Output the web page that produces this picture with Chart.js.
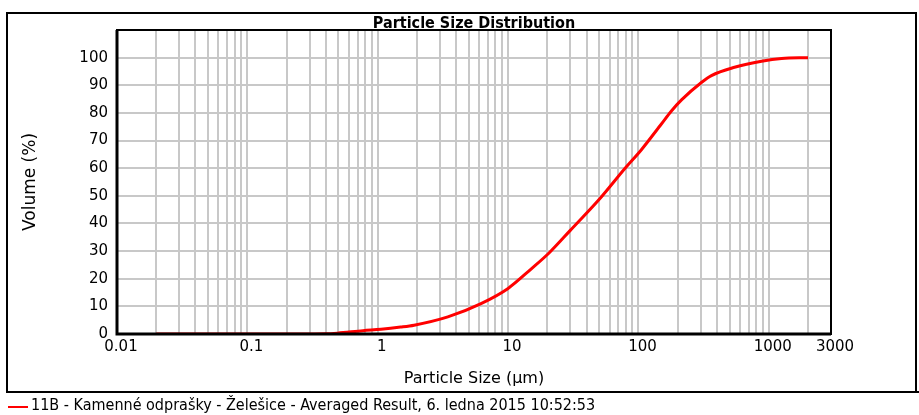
<!DOCTYPE html>
<html>
<head>
<meta charset="utf-8">
<script src="https://cdn.jsdelivr.net/npm/chart.js@4.4.0/dist/chart.umd.min.js"></script>
<style>
    html, body { margin: 0; padding: 0; background: #ffffff; }
    #wrap { width: 919px; height: 415px; }
</style>
</head>
<body>
<div id="wrap"><canvas id="psdChart" width="919" height="415"></canvas></div>
<script>
// Particle size (µm) and cumulative volume (%)
const sizes = [0.02, 0.1, 0.3, 0.4, 0.49, 0.77, 1.06, 1.5, 1.9, 3.45, 6.2, 10, 15, 20.8, 30, 51.9, 78.4, 105, 150, 179, 214, 304, 363, 546, 880, 1254, 2000];
const volumes = [0, 0, 0, 0.05, 0.3, 1.2, 1.7, 2.5, 3.2, 6.2, 11, 16.5, 23.5, 29.5, 37.5, 49.6, 59.8, 66.6, 76, 80.7, 84.7, 91, 93.5, 96.5, 98.7, 99.7, 100];

// Axis ticks
const xLabelTicks = [0.01, 0.1, 1, 10, 100, 1000, 3000];
const xGridTicks = [0.01, 0.02, 0.03, 0.04, 0.05, 0.06, 0.07, 0.08, 0.09,
                    0.1, 0.2, 0.3, 0.4, 0.5, 0.6, 0.7, 0.8, 0.9,
                    1, 2, 3, 4, 5, 6, 7, 8, 9,
                    10, 20, 30, 40, 50, 60, 70, 80, 90,
                    100, 200, 300, 400, 500, 600, 700, 800, 900,
                    1000, 2000, 3000];
const yLabelTicks = [0, 10, 20, 30, 40, 50, 60, 70, 80, 90, 100];

const chartTitle = 'Particle Size Distribution';
const seriesName = '11B - Kamenné odprašky - Želešice - Averaged Result, 6. ledna 2015 10:52:53';

const FONT = '"DejaVu Sans", Tahoma, sans-serif';
const FONT_NARROW = '"DejaVu Sans Condensed", "DejaVu Sans", sans-serif';

// Frame, title, plot border and legend drawn around the chart
const framePlugin = {
    id: 'frame',
    beforeDatasetsDraw(chart) {
        const ctx = chart.ctx;
        ctx.save();
        ctx.fillStyle = '#000';
        ctx.font = 'bold 16px ' + FONT_NARROW;
        ctx.textAlign = 'center';
        ctx.textBaseline = 'middle';
        ctx.fillText(chartTitle, (chart.chartArea.left + chart.chartArea.right) / 2, 24);
        ctx.restore();
    },
    afterDraw(chart) {
        const ctx = chart.ctx;
        const a = chart.chartArea;
        ctx.save();
        ctx.strokeStyle = '#000';
        // plot border
        ctx.lineWidth = 2;
        ctx.strokeRect(a.left, a.top, a.right - a.left, a.bottom - a.top);
        ctx.lineWidth = 3;
        ctx.beginPath();
        ctx.moveTo(a.left, a.top);
        ctx.lineTo(a.left, a.bottom);
        ctx.lineTo(a.right, a.bottom);
        ctx.stroke();
        // outer frame
        ctx.lineWidth = 2;
        ctx.strokeRect(7, 13, 909, 379);
        ctx.beginPath();
        ctx.moveTo(7, 392);
        ctx.lineTo(919, 392);
        ctx.stroke();
        // legend
        ctx.strokeStyle = '#ff0000';
        ctx.lineWidth = 2;
        ctx.beginPath();
        ctx.moveTo(8, 407);
        ctx.lineTo(28, 407);
        ctx.stroke();
        ctx.fillStyle = '#000';
        ctx.font = '16px ' + FONT_NARROW;
        ctx.textAlign = 'left';
        ctx.textBaseline = 'middle';
        ctx.fillText(seriesName, 31, 406);
        ctx.restore();
    }
};

const ctx = document.getElementById('psdChart');
new Chart(ctx, {
    type: 'line',
    data: {
        datasets: [{
            label: seriesName,
            data: sizes.map((s, i) => ({ x: s, y: volumes[i] })),
            borderColor: '#ff0000',
            borderWidth: 3,
            pointRadius: 0,
            cubicInterpolationMode: 'monotone',
            fill: false
        }]
    },
    options: {
        responsive: false,
        animation: false,
        devicePixelRatio: 1,
        layout: {
            padding: { left: 0, right: 88, top: 30, bottom: 0 }
        },
        plugins: {
            legend: { display: false },
            title: { display: false },
            tooltip: { enabled: false }
        },
        scales: {
            x: {
                type: 'logarithmic',
                min: 0.01,
                max: 3000,
                afterBuildTicks: scale => {
                    scale.ticks = xGridTicks.map(v => ({ value: v }));
                },
                afterFit: scale => { scale.height = 81; },
                ticks: {
                    color: '#000',
                    font: { family: FONT, size: 15 },
                    padding: 4,
                    labelOffset: 4,
                    maxRotation: 0,
                    autoSkip: false,
                    callback: function(value) {
                        return xLabelTicks.includes(value) ? String(value) : '';
                    }
                },
                grid: { color: '#c8c8c8', lineWidth: 2, drawTicks: false },
                border: { display: false },
                title: {
                    display: true,
                    text: 'Particle Size (µm)',
                    color: '#000',
                    font: { family: FONT, size: 16 },
                    padding: { top: 0, bottom: 27 }
                }
            },
            y: {
                min: 0,
                max: 110,
                afterBuildTicks: scale => {
                    scale.ticks = yLabelTicks.concat([110]).map(v => ({ value: v }));
                },
                afterFit: scale => { scale.width = 117; },
                ticks: {
                    color: '#000',
                    font: { family: FONT, size: 15 },
                    padding: 9,
                    callback: function(value) {
                        return yLabelTicks.includes(value) ? String(value) : '';
                    }
                },
                grid: { color: '#c8c8c8', lineWidth: 2, drawTicks: false },
                border: { display: false },
                title: {
                    display: true,
                    text: 'Volume (%)',
                    color: '#000',
                    font: { family: FONT, size: 17 },
                    padding: { top: 20, bottom: 0 }
                }
            }
        }
    },
    plugins: [framePlugin]
});
</script>
</body>
</html>
